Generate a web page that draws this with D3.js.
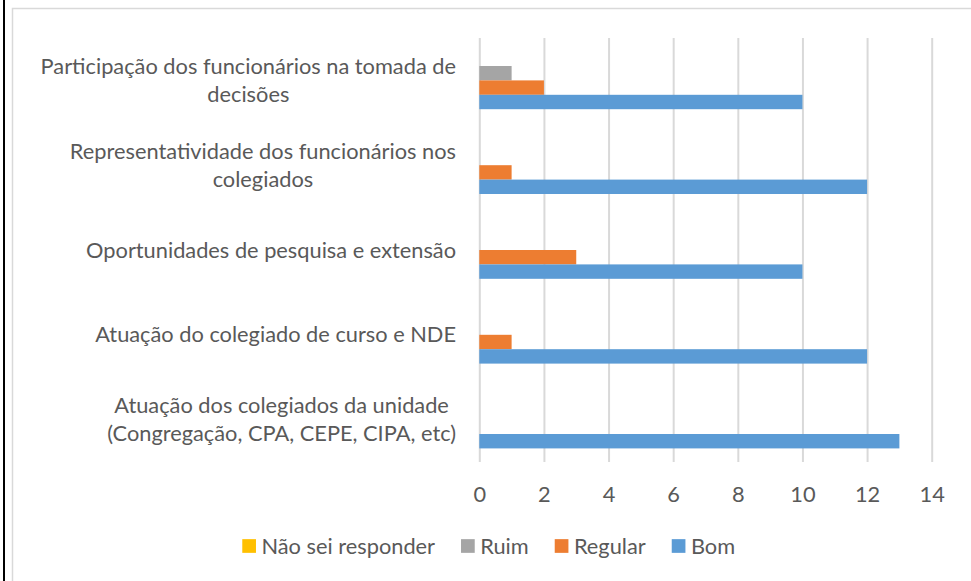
<!DOCTYPE html>
<html>
<head>
<meta charset="utf-8">
<script src="https://cdn.jsdelivr.net/npm/d3@7"></script>
<style>
  html, body { margin: 0; padding: 0; background: #fff; }
  svg { display: block; }
</style>
</head>
<body>
<svg id="chart" width="971" height="581"></svg>
<script>
// ---- Data ----
const categories = [
  "Participação dos funcionários na tomada de\ndecisões",
  "Representatividade dos funcionários nos\ncolegiados",
  "Oportunidades de pesquisa e extensão",
  "Atuação do colegiado de curso e NDE",
  "Atuação dos colegiados da unidade\n(Congregação, CPA, CEPE, CIPA, etc)"
];
const seriesNames = ["Não sei responder", "Ruim", "Regular", "Bom"];
const naoSei  = [0, 0, 0, 0, 0];
const ruim    = [1, 0, 0, 0, 0];
const regular = [2, 1, 3, 1, 0];
const bom     = [10, 12, 10, 12, 13];
const tickValues = [0, 2, 4, 6, 8, 10, 12, 14];
const colors = ["#FFC000", "#A5A5A5", "#ED7D31", "#5B9BD5"];

const seriesValues = [naoSei, ruim, regular, bom];

// ---- Layout ----
const svg = d3.select("#chart");
const FONT = "Lato, 'Open Sans', sans-serif";
const TEXT = "#595959";
const plot = { left: 479.3, right: 931.7, top: 38, bottom: 462 };

// outer black line and chart border
svg.append("rect").attr("x", 3).attr("y", 0).attr("width", 2).attr("height", 581).attr("fill", "#000");
svg.append("rect").attr("x", 12.5).attr("y", 8.5).attr("width", 980).attr("height", 600)
  .attr("fill", "#fff").attr("stroke", "#D9D9D9").attr("stroke-width", 1.5);

// font-size fit
const probe = svg.append("text").attr("font-family", FONT).attr("font-size", 20)
  .text("Atuação do colegiado de curso e NDE");
const fs = 20 * 361 / probe.node().getComputedTextLength();
probe.remove();

const x = d3.scaleLinear().domain([0, 14]).range([plot.left, plot.right]);
const y0 = d3.scaleBand().domain(categories).range([plot.top, plot.bottom]).padding(0);
const y1 = d3.scaleBand().domain(seriesNames).range([0, y0.bandwidth()]).paddingInner(0).paddingOuter(0.944);

// gridlines
const xAxis = d3.axisBottom(x).tickValues(tickValues).tickSize(-(plot.bottom - plot.top)).tickFormat(d3.format("d"));
const gx = svg.append("g").attr("transform", `translate(0,${plot.bottom})`).call(xAxis);
gx.select(".domain").remove();
gx.selectAll(".tick line").attr("stroke", "#D9D9D9").attr("stroke-width", 2);
gx.selectAll(".tick text").attr("font-family", FONT).attr("font-size", fs).attr("fill", TEXT)
  .attr("y", 32).attr("dy", "0.35em");

// bars
const groups = svg.append("g").selectAll("g").data(categories).join("g")
  .attr("transform", d => `translate(0,${y0(d)})`);
groups.selectAll("rect")
  .data((c, i) => seriesNames.map((s, j) => ({ s, v: seriesValues[j][i], c: colors[j] })))
  .join("rect")
  .attr("x", x(0))
  .attr("y", d => y1(d.s))
  .attr("width", d => x(d.v) - x(0))
  .attr("height", y1.bandwidth())
  .attr("fill", d => d.c);

// category labels
const labelRight = 456;
const lineH = 28;
categories.forEach(c => {
  const lines = c.split("\n");
  const cy = y0(c) + y0.bandwidth() / 2;
  const g = svg.append("g");
  const texts = lines.map((ln, k) => g.append("text")
    .attr("font-family", FONT).attr("font-size", fs).attr("fill", TEXT)
    .attr("text-anchor", "middle").attr("dy", "0.35em")
    .attr("y", cy + (k - (lines.length - 1) / 2) * lineH)
    .text(ln));
  const w = d3.max(texts, t => t.node().getComputedTextLength());
  texts.forEach(t => t.attr("x", labelRight - w / 2));
});

// legend
const legY = 546, sq = 13.7, gapTxt = 5.5, gapItem = 26;
const leg = svg.append("g");
let cursor = 0;
seriesNames.forEach((s, j) => {
  const it = leg.append("g").attr("transform", `translate(${cursor},0)`);
  it.append("rect").attr("x", 0).attr("y", legY - sq / 2).attr("width", sq).attr("height", sq).attr("fill", colors[j]);
  const t = it.append("text").attr("x", sq + gapTxt).attr("y", legY).attr("dy", "0.35em")
    .attr("font-family", FONT).attr("font-size", fs).attr("fill", TEXT).text(s);
  cursor += sq + gapTxt + t.node().getComputedTextLength() + gapItem;
});
const legW = cursor - gapItem;
leg.attr("transform", `translate(${488.7 - legW / 2},0)`);
</script>
</body>
</html>
